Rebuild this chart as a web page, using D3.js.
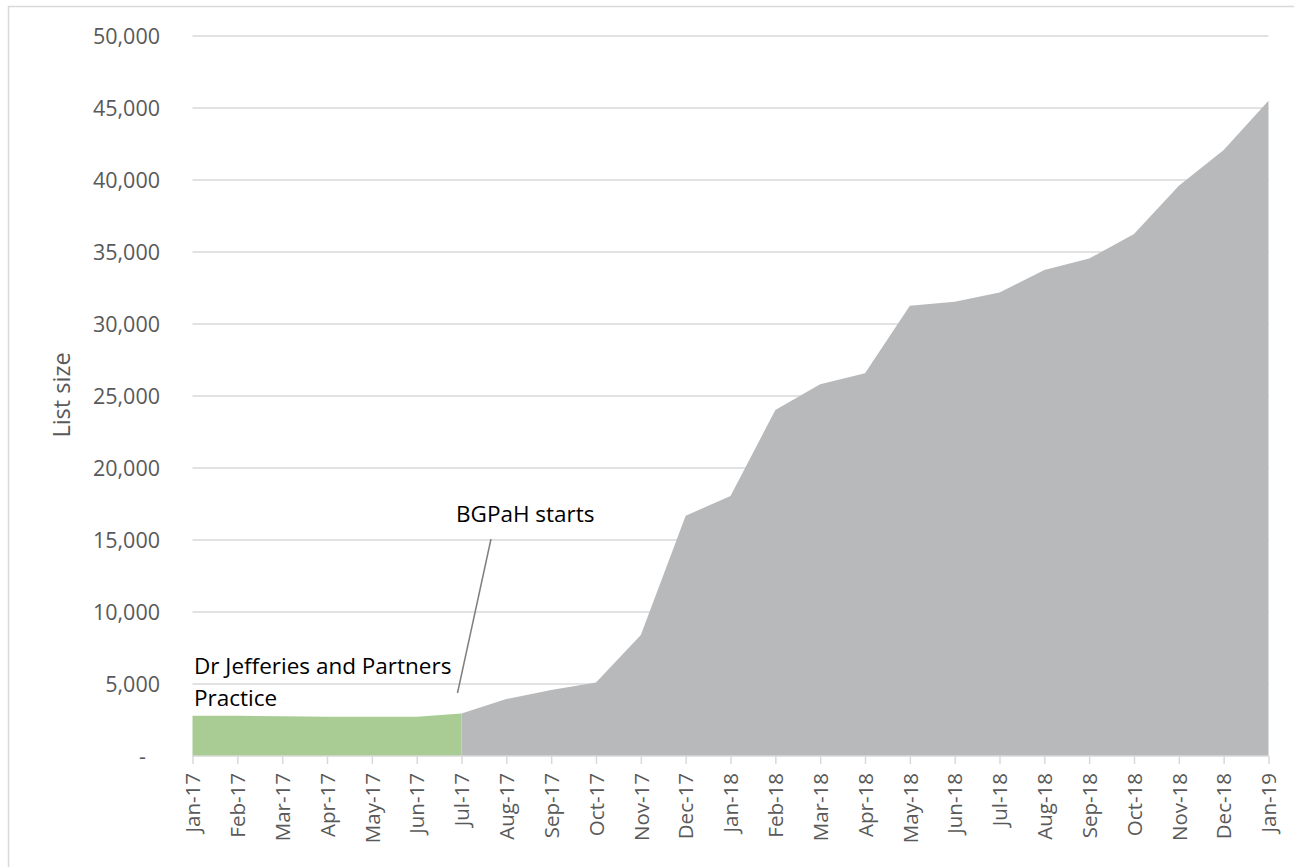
<!DOCTYPE html>
<html>
<head>
<meta charset="utf-8">
<script src="https://cdn.jsdelivr.net/npm/d3@7"></script>
<style>
  html, body { margin: 0; padding: 0; background: #fff; }
  svg { display: block; font-family: "Open Sans", "Segoe UI", sans-serif; }
</style>
</head>
<body>
<svg id="chart" width="1294" height="867"></svg>
<script>
const months = ["Jan-17","Feb-17","Mar-17","Apr-17","May-17","Jun-17","Jul-17","Aug-17","Sep-17","Oct-17","Nov-17","Dec-17",
                "Jan-18","Feb-18","Mar-18","Apr-18","May-18","Jun-18","Jul-18","Aug-18","Sep-18","Oct-18","Nov-18","Dec-18","Jan-19"];
// Dr Jefferies and Partners Practice (Jan-17 .. Jul-17)
const practiceValues = [2800, 2790, 2760, 2720, 2720, 2720, 2960];
// BGPaH (Jul-17 .. Jan-19)
const bgpahValues = [2960, 3960, 4580, 5110, 8400, 16690, 18050, 24030, 25810, 26580, 31270, 31550, 32180, 33750, 34540, 36250, 39600, 42080, 45510];
const yTicks = [0, 5000, 10000, 15000, 20000, 25000, 30000, 35000, 40000, 45000, 50000];

const practice = practiceValues.map((v, i) => ({m: months[i], v}));
const bgpah = bgpahValues.map((v, i) => ({m: months[i + 6], v}));

const svg = d3.select("#chart");
const plotLeft = 192.5, plotRight = 1268.5, plotTop = 36, plotBottom = 756;

svg.append("rect").attr("x", 8.5).attr("y", 6.5).attr("width", 1320).attr("height", 920)
   .attr("fill", "#fff").attr("stroke", "#d9d9d9").attr("stroke-width", 1.5);

const x = d3.scalePoint().domain(months).range([plotLeft, plotRight]);
const y = d3.scaleLinear().domain([0, 50000]).range([plotBottom, plotTop]);

// gridlines
svg.append("g").selectAll("line").data(yTicks.filter(d => d > 0)).join("line")
  .attr("x1", plotLeft).attr("x2", plotRight)
  .attr("y1", d => y(d)).attr("y2", d => y(d))
  .attr("stroke", "#d9d9d9").attr("stroke-width", 1.5);

const area = d3.area().x(d => x(d.m)).y0(y(0)).y1(d => y(d.v));
svg.append("path").datum(bgpah).attr("d", area).attr("fill", "#b8b9bb");
svg.append("path").datum(practice).attr("d", area).attr("fill", "#a9cc94");

// y axis
const yAxis = d3.axisLeft(y).tickValues(yTicks).tickSize(0).tickPadding(0)
  .tickFormat(d => d === 0 ? "-" : d3.format(",")(d));
const gy = svg.append("g").attr("transform", `translate(160,0)`).call(yAxis);
gy.select(".domain").remove();
gy.selectAll("text").attr("fill", "#595959").style("font-size", "21.5px")
  .attr("font-family", "'Open Sans', sans-serif").attr("dy", "0.35em");
gy.selectAll(".tick").filter(d => d === 0).select("text").attr("x", -14);

// x axis
const xAxis = d3.axisBottom(x).tickSize(8).tickPadding(0);
const gx = svg.append("g").attr("transform", `translate(0,${plotBottom})`).call(xAxis);
gx.select(".domain").attr("stroke", "#d9d9d9").attr("stroke-width", 1.5)
  .attr("d", `M${plotLeft},0H${plotRight}`);
gx.selectAll(".tick line").attr("stroke", "#d9d9d9").attr("stroke-width", 1.5);
gx.selectAll(".tick text")
  .attr("fill", "#595959").style("font-size", "20.5px")
  .attr("font-family", "'Open Sans', sans-serif")
  .attr("transform", "rotate(-90)")
  .attr("text-anchor", "end")
  .attr("x", -17).attr("y", 0).attr("dy", "0.35em");

// y axis title
svg.append("text").attr("transform", "translate(62,395) rotate(-90)")
  .attr("text-anchor", "middle").attr("dy", "0.35em")
  .attr("fill", "#595959").style("font-size", "23.5px").text("List size");

// annotations
svg.append("line").attr("x1", 491).attr("y1", 539).attr("x2", 457.5).attr("y2", 693)
  .attr("stroke", "#7f7f7f").attr("stroke-width", 1.5);
svg.append("text").attr("x", 456).attr("y", 522).attr("fill", "#000")
  .style("font-size", "22.5px").text("BGPaH starts");
svg.append("text").attr("x", 194).attr("y", 674).attr("fill", "#000")
  .style("font-size", "22.5px").text("Dr Jefferies and Partners");
svg.append("text").attr("x", 194).attr("y", 705.5).attr("fill", "#000")
  .style("font-size", "22.5px").text("Practice");
</script>
</body>
</html>
